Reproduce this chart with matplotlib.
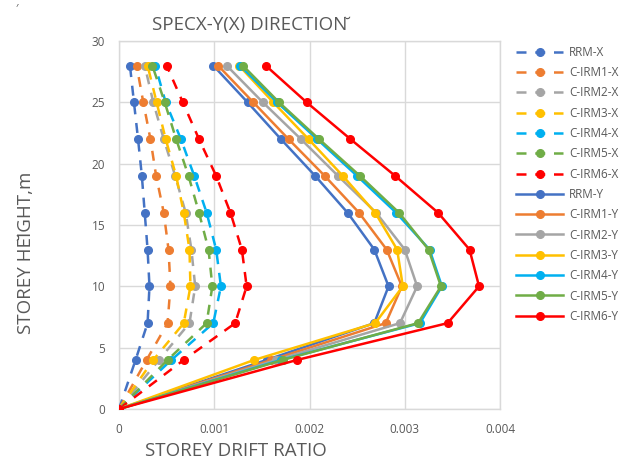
import matplotlib
matplotlib.use("Agg")
import matplotlib.pyplot as plt

plt.rcParams['font.family'] = ['Open Sans', 'DejaVu Sans']

heights = [0, 4, 7, 10, 13, 16, 19, 22, 25, 28]

rrm_x   = [0, 0.000174, 0.00030, 0.00032, 0.00030, 0.00027, 0.00024, 0.00020, 0.000157, 0.000115]
cirm1_x = [0, 0.00029, 0.00051, 0.00054, 0.00052, 0.00047, 0.00039, 0.00033, 0.000255, 0.000185]
cirm2_x = [0, 0.00042, 0.00074, 0.00080, 0.00076, 0.00070, 0.00059, 0.00047, 0.00036, 0.00027]
cirm3_x = [0, 0.00036, 0.00068, 0.00075, 0.00074, 0.00068, 0.00060, 0.00049, 0.000395, 0.00030]
cirm4_x = [0, 0.00055, 0.00099, 0.00107, 0.00102, 0.00092, 0.00079, 0.00065, 0.00049, 0.00038]
cirm5_x = [0, 0.00051, 0.00092, 0.00098, 0.00094, 0.00084, 0.00073, 0.00060, 0.00048, 0.00035]
cirm6_x = [0, 0.00068, 0.00122, 0.00134, 0.00129, 0.00117, 0.00102, 0.00084, 0.00067, 0.00050]

rrm_y   = [0, 0.00155, 0.00268, 0.00283, 0.00268, 0.00240, 0.00206, 0.00170, 0.00135, 0.00099]
cirm1_y = [0, 0.00160, 0.00280, 0.00297, 0.00281, 0.00252, 0.00216, 0.00178, 0.00141, 0.00104]
cirm2_y = [0, 0.00165, 0.00295, 0.00313, 0.00300, 0.00270, 0.00230, 0.00191, 0.00151, 0.00113]
cirm3_y = [0, 0.00142, 0.00269, 0.00298, 0.00292, 0.00269, 0.00235, 0.00199, 0.00162, 0.00126]
cirm4_y = [0, 0.00170, 0.00316, 0.00339, 0.00326, 0.00291, 0.00250, 0.00208, 0.00166, 0.00127]
cirm5_y = [0, 0.00172, 0.00314, 0.00338, 0.00325, 0.00294, 0.00253, 0.00210, 0.00168, 0.00130]
cirm6_y = [0, 0.00187, 0.00345, 0.00378, 0.00368, 0.00335, 0.00290, 0.00243, 0.00197, 0.00154]

x_series = [("RRM-X", rrm_x), ("C-IRM1-X", cirm1_x), ("C-IRM2-X", cirm2_x), ("C-IRM3-X", cirm3_x),
            ("C-IRM4-X", cirm4_x), ("C-IRM5-X", cirm5_x), ("C-IRM6-X", cirm6_x)]
y_series = [("RRM-Y", rrm_y), ("C-IRM1-Y", cirm1_y), ("C-IRM2-Y", cirm2_y), ("C-IRM3-Y", cirm3_y),
            ("C-IRM4-Y", cirm4_y), ("C-IRM5-Y", cirm5_y), ("C-IRM6-Y", cirm6_y)]
colors = ["#4472C4", "#ED7D31", "#A5A5A5", "#FFC000", "#00B0F0", "#70AD47", "#FF0000"]

x_ticks = [0, 0.001, 0.002, 0.003, 0.004]
x_ticklabels = ["0", "0.001", "0.002", "0.003", "0.004"]
y_ticks = [0, 5, 10, 15, 20, 25, 30]

fig = plt.figure(figsize=(6.22, 4.62), dpi=100)
ax = fig.add_axes([119/622, 1-409/462, (500-119)/622, (409-41)/462])

for (name, vals), c in zip(x_series, colors):
    ax.plot(vals, heights, color=c, lw=1.8, ls=(0, (4, 3.5)), marker='o', ms=5.5,
            markeredgecolor=c, label=name, zorder=3)
for (name, vals), c in zip(y_series, colors):
    ax.plot(vals, heights, color=c, lw=1.8, ls='-', marker='o', ms=5.5,
            markeredgecolor=c, label=name, zorder=4)

ax.set_xlim(0, 0.004)
ax.set_ylim(0, 30)
ax.set_xticks(x_ticks)
ax.set_xticklabels(x_ticklabels)
ax.set_yticks(y_ticks)
ax.grid(True, color="#D9D9D9", lw=1)
ax.set_axisbelow(True)
for s in ax.spines.values():
    s.set_color("#D9D9D9")
    s.set_linewidth(1)
ax.tick_params(length=0, labelsize=8.5, colors="#595959", pad=10)

ax.set_xlabel("STOREY DRIFT RATIO", fontsize=13.5, color="#595959", loc='left')
ax.xaxis.set_label_coords(26/381, -33/368)
ax.set_ylabel("STOREY HE\u0306IGHT,m", fontsize=13.5, color="#595959")
ax.yaxis.set_label_coords(-84/381, 156/368)
ax.set_title("SPECX-Y(X) DIRECTION\u0306", fontsize=13.5, color="#595959", pad=8, x=131/381)

fig.text(16/622, 1-12/462, "\u2032", fontsize=8, color="#595959")

leg = ax.legend(loc='upper left', bbox_to_anchor=(1.03, 1.0), frameon=False, fontsize=8.5,
                handlelength=4, handletextpad=0.5, labelspacing=0.62, borderaxespad=0)
for t in leg.get_texts():
    t.set_color("#595959")

fig.savefig("out.png", dpi=100)
